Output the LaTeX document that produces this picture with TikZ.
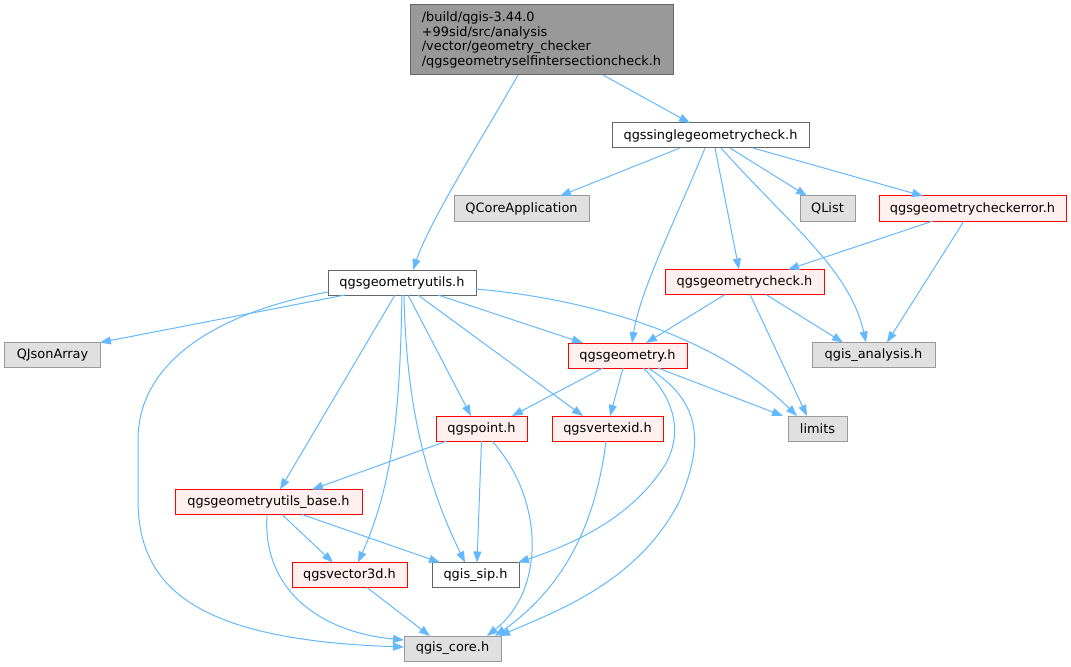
\documentclass[tikz,border=0pt]{standalone}
\usepackage{fontspec}
\setmainfont{DejaVu Sans}
\usetikzlibrary{arrows.meta}
\definecolor{edgec}{HTML}{63B8FF}
\definecolor{bord}{HTML}{666666}
\definecolor{extf}{HTML}{E0E0E0}
\definecolor{extb}{HTML}{999999}
\definecolor{hotf}{HTML}{FFF0F0}
\definecolor{hotb}{HTML}{FF0000}
\definecolor{rootf}{HTML}{999999}
\begin{document}
\begin{tikzpicture}[x=1bp,y=-1bp,
  box/.style={rectangle, draw, inner sep=0pt, outer sep=0pt, line width=1bp,
    font=\fontsize{12.9bp}{14.7bp}\selectfont, text=black, minimum height=25bp},
  plain/.style={box, fill=white, draw=bord},
  ext/.style={box, fill=extf, draw=extb},
  hot/.style={box, fill=hotf, draw=hotb},
  rootbox/.style={box, fill=rootf, draw=bord, align=left},
  edge/.style={draw=edgec, line width=1bp, -{Triangle[length=11bp,width=8bp]}}]
\useasboundingbox (0,0) rectangle (1071,667);

% nodes
\node[rootbox, minimum width=263bp, minimum height=70bp] (root) at (541.5,40)
  {/build/qgis-3.44.0\\+99sid/src/analysis\\/vector/geometry\_checker\\/qgsgeometryselfintersectioncheck.h};
\node[plain, minimum width=197bp] (single) at (710.5,135.5) {qgssinglegeometrycheck.h};
\node[ext, minimum width=135bp] (qcore) at (521.5,208.5) {QCoreApplication};
\node[ext, minimum width=55bp] (qlist) at (827.5,208.5) {QList};
\node[hot, minimum width=187bp] (cerr) at (972.5,208.5) {qgsgeometrycheckerror.h};
\node[plain, minimum width=148bp] (utils) at (402,282.5) {qgsgeometryutils.h};
\node[hot, minimum width=159bp] (check) at (744.5,282) {qgsgeometrycheck.h};
\node[ext, minimum width=95bp] (qjson) at (52.5,355) {QJsonArray};
\node[hot, minimum width=119bp] (geom) at (627.5,355.5) {qgsgeometry.h};
\node[ext, minimum width=123bp] (anal) at (873.5,355) {qgis\_analysis.h};
\node[hot, minimum width=91bp] (point) at (481.5,428.5) {qgspoint.h};
\node[hot, minimum width=111bp] (vert) at (607.5,428.5) {qgsvertexid.h};
\node[ext, minimum width=59bp] (limits) at (817.5,428.5) {limits};
\node[hot, minimum width=187bp] (ubase) at (268.5,502) {qgsgeometryutils\_base.h};
\node[hot, minimum width=115bp] (v3d) at (349.5,575) {qgsvector3d.h};
\node[plain, minimum width=87bp] (sip) at (475.5,575) {qgis\_sip.h};
\node[ext, minimum width=97bp] (core) at (452.5,648.5) {qgis\_core.h};

% edges
\draw[edge] ([xshift=61.5bp]root.south) -- ([xshift=-20.5bp]single.north);
\draw[edge] ([xshift=-23.5bp]root.south) .. controls (490,125) and (430,220) .. ([xshift=11bp]utils.north);
\draw[edge] ([xshift=-30.5bp]single.south) -- ([xshift=38.5bp]qcore.north);
\draw[edge] ([xshift=19.5bp]single.south) -- ([xshift=-20.5bp]qlist.north);
\draw[edge] ([xshift=42.5bp]single.south) -- ([xshift=-49.5bp]cerr.north);
\draw[edge] ([xshift=4.5bp]single.south) -- ([xshift=-5.5bp]check.north);
\draw[edge] ([xshift=-5.5bp]single.south) .. controls (680,210) and (640,290) .. ([xshift=4.5bp]geom.north);
\draw[edge] ([xshift=10.5bp]single.south) .. controls (790,225) and (850,270) .. ([xshift=-7.5bp]anal.north);
\draw[edge] ([xshift=-39.5bp]cerr.south) -- ([xshift=43.5bp]check.north);
\draw[edge] ([xshift=-8.5bp]cerr.south) -- ([xshift=13.5bp]anal.north);
\draw[edge] ([xshift=-19.5bp]check.south) -- ([xshift=18.5bp]geom.north);
\draw[edge] ([xshift=21.5bp]check.south) -- ([xshift=-30.5bp]anal.north);
\draw[edge] ([xshift=5.5bp]check.south) -- ([xshift=-10.5bp]limits.north);
\draw[edge] ([xshift=-57bp]utils.south) -- (qjson.north east);
\draw[edge] ([yshift=-9.5bp]utils.west) .. controls (220,312) and (138,360) .. (138,440)
  -- (138,500) .. controls (138,590) and (200,640) .. ([yshift=1.5bp]core.west);
\draw[edge] ([xshift=-7bp]utils.south) -- ([xshift=11.5bp]ubase.north);
\draw[edge] (utils.south) .. controls (400,400) and (395,480) .. ([xshift=8.5bp]v3d.north);
\draw[edge] ([xshift=2bp]utils.south) .. controls (406,390) and (420,470) .. ([xshift=-10.5bp]sip.north);
\draw[edge] ([xshift=6bp]utils.south) -- ([xshift=-10.5bp]point.north);
\draw[edge] ([xshift=16bp]utils.south) -- ([xshift=-24.5bp]vert.north);
\draw[edge] ([xshift=36bp]utils.south) -- ([xshift=-44.5bp]geom.north);
\draw[edge] ([yshift=-6.5bp]utils.east) .. controls (600,300) and (720,340) .. ([xshift=-20.5bp]limits.north);
\draw[edge] ([xshift=-24.5bp]geom.south) -- ([xshift=30.5bp]point.north);
\draw[edge] ([xshift=-4.5bp]geom.south) -- ([xshift=2.5bp]vert.north);
\draw[edge] ([xshift=30.5bp]geom.south) -- ([xshift=-34.5bp]limits.north);
\draw[edge] ([xshift=15.5bp]geom.south) .. controls (672,395) and (685,430) .. (665,465)
  .. controls (630,520) and (570,545) .. ([xshift=-1bp]sip.north east);
\draw[edge] ([xshift=20.5bp]geom.south) .. controls (700,400) and (705,440) .. (680,500)
  .. controls (640,580) and (560,610) .. ([xshift=-2bp]core.north east);
\draw[edge] ([xshift=-34.5bp]point.south) -- ([xshift=43.5bp]ubase.north);
\draw[edge] (point.south) -- ([xshift=1.5bp]sip.north);
\draw[edge] ([xshift=10.5bp]point.south) .. controls (545,500) and (545,590) .. ([xshift=34.5bp]core.north);
\draw[edge] ([xshift=-1.5bp]vert.south) .. controls (595,530) and (560,590) .. ([xshift=42.5bp]core.north);
\draw[edge] ([xshift=13.5bp]ubase.south) -- ([xshift=-16.5bp]v3d.north);
\draw[edge] ([xshift=33.5bp]ubase.south) -- ([xshift=-35.5bp]sip.north);
\draw[edge] ([xshift=-1.5bp]ubase.south) .. controls (262,590) and (320,632) .. ([yshift=8.5bp]core.west);
\draw[edge] ([xshift=17.5bp]v3d.south) -- ([xshift=-22.5bp]core.north);
\end{tikzpicture}
\end{document}
